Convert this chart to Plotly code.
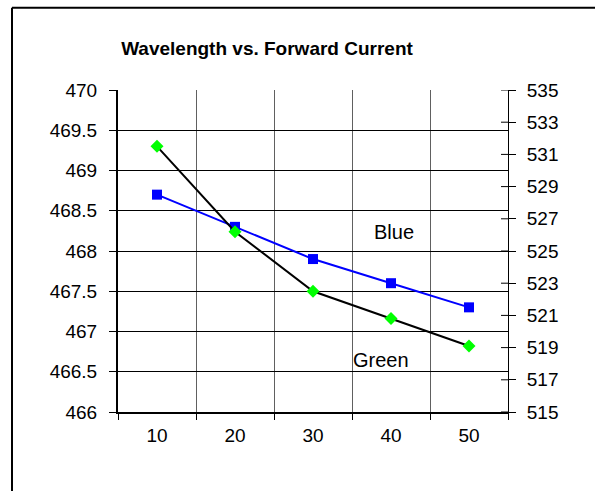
import plotly.graph_objects as go

current = [10, 20, 30, 40, 50]
blue_wl = [468.7, 468.3, 467.9, 467.6, 467.3]
green_wl = [531.5, 526.2, 522.5, 520.8, 519.1]
left_ticks = [466, 466.5, 467, 467.5, 468, 468.5, 469, 469.5, 470]
right_ticks = [515, 517, 519, 521, 523, 525, 527, 529, 531, 533, 535]

FONT = "Liberation Sans, Arial, sans-serif"
W, H = 595, 491
L, T = 118, 90
PW, PH = 390, 322.5
R = W - L - PW
B = H - T - PH

fig = go.Figure()
fig.add_trace(go.Scatter(
    x=current, y=blue_wl, mode="lines+markers", name="Blue",
    line=dict(color="#0000ff", width=2),
    marker=dict(symbol="square", size=10, color="#0000ff"),
    yaxis="y", cliponaxis=False))
fig.add_trace(go.Scatter(
    x=current, y=green_wl, mode="lines+markers", name="Green",
    line=dict(color="#000000", width=2),
    marker=dict(symbol="diamond", size=10, color="#00ff00"),
    yaxis="y2", cliponaxis=False))

FX = 12    # frame left edge (px)
FY = 7.5   # frame top edge (px)
shapes = [
    dict(type="line", xref="paper", yref="paper",
         x0=-(L - FX) / PW, x1=1 + (R + 20) / PW, y0=1 + (T - FY) / PH, y1=1 + (T - FY) / PH,
         line=dict(color="black", width=2), layer="below"),
    dict(type="line", xref="paper", yref="paper",
         x0=-(L - FX) / PW, x1=-(L - FX) / PW, y0=-(B + 20) / PH, y1=1 + (T - FY) / PH,
         line=dict(color="black", width=2), layer="below"),
]
for v in right_ticks:
    shapes.append(dict(type="line", xref="paper", yref="y2", x0=1 - 7 / PW, x1=1, y0=v, y1=v,
                       line=dict(color="black", width=1)))

fig.update_layout(
    width=W, height=H,
    margin=dict(l=L, r=R, t=T, b=B, pad=0),
    paper_bgcolor="white", plot_bgcolor="white",
    showlegend=False,
    font=dict(family=FONT, size=19, color="black"),
    title=dict(text="<b>Wavelength vs. Forward Current</b>", x=267 / W, xanchor="center",
               y=1 - 48 / H, yanchor="middle", font=dict(family=FONT, size=19, color="black")),
    xaxis=dict(range=[5, 55], tickmode="array", tickvals=current, ticktext=[str(c) for c in current],
               showgrid=False, zeroline=False, ticks="", showline=True, linecolor="black", linewidth=1.5,
               ticklabelstandoff=5,
               minor=dict(tickmode="linear", tick0=5, dtick=10, showgrid=True, gridcolor="#606060",
                          gridwidth=1, ticks="outside", ticklen=6, tickcolor="black", tickwidth=1)),
    yaxis=dict(range=[466, 470], tickmode="array", tickvals=left_ticks,
               ticktext=[f"{v:g}" for v in left_ticks],
               showgrid=True, gridcolor="black", gridwidth=1, zeroline=False,
               showline=True, linecolor="black", linewidth=2, mirror=False,
               ticks="outside", ticklen=7, tickcolor="black", tickwidth=1, ticklabelstandoff=8),
    yaxis2=dict(range=[515, 535], tickmode="array", tickvals=right_ticks,
                ticktext=[str(v) for v in right_ticks], overlaying="y", side="right",
                showgrid=False, zeroline=False, showline=True, linecolor="black", linewidth=1,
                ticks="outside", ticklen=7, tickcolor="black", tickwidth=1, ticklabelstandoff=7),
    annotations=[
        dict(x=40.4, y=468.24, xref="x", yref="y", text="Blue", showarrow=False,
             font=dict(family=FONT, size=20, color="black")),
        dict(x=38.7, y=466.64, xref="x", yref="y", text="Green", showarrow=False,
             font=dict(family=FONT, size=20, color="black")),
    ],
    shapes=shapes,
)

fig.write_html(
    "out.html",
    config={"displayModeBar": False},
    post_script="document.documentElement.style.margin='0';document.body.style.margin='0';"
                "document.documentElement.style.overflow='hidden';document.body.style.overflow='hidden';",
)
